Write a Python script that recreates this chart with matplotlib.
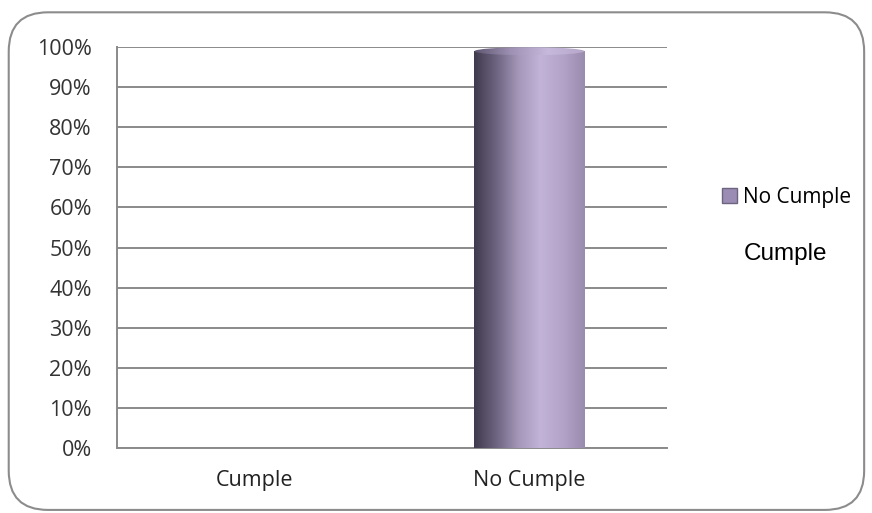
import matplotlib.pyplot as plt
import numpy as np
from matplotlib.patches import FancyBboxPatch, Ellipse, Rectangle, Patch
from matplotlib.colors import LinearSegmentedColormap
from matplotlib.lines import Line2D

categories = ['Cumple', 'No Cumple']
values = [0.0, 1.0]
legend_labels = ['No Cumple', 'Cumple']

fig = plt.figure(figsize=(8.72, 5.13), dpi=100)
fig.patch.set_facecolor('white')

# rounded frame around the chart
frame = FancyBboxPatch((0.010, 0.006), 0.981, 0.970, boxstyle='round,pad=0,rounding_size=0.045',
                       transform=fig.transFigure, fill=False, edgecolor='#8c8c8c', linewidth=1.5,
                       mutation_aspect=872 / 513)
fig.patches.append(frame)

ax = fig.add_axes([0.134, 0.127, 0.631, 0.781])
ax.set_xlim(-0.5, 1.5)
ax.set_ylim(0, 1)
ticks = np.arange(0, 1.01, 0.1)
ax.set_yticks(ticks)
ax.set_yticklabels([f'{int(round(v * 100))}%' for v in ticks],
                   fontsize=15.5, family='Open Sans', color='#333333')
ax.set_xticks(range(len(categories)))
ax.set_xticklabels(categories, fontsize=15.5, family='Open Sans', color='#222222')
ax.tick_params(length=0)
ax.tick_params(axis='y', pad=18)
ax.tick_params(axis='x', pad=16)
ax.yaxis.grid(True, color='#8a8a8a', linewidth=1.4)
ax.set_axisbelow(True)
for s in ['top', 'right']:
    ax.spines[s].set_visible(False)
for s in ['left', 'bottom']:
    ax.spines[s].set_color('#8a8a8a')
    ax.spines[s].set_linewidth(1.4)

cmap = LinearSegmentedColormap.from_list('cyl', ['#3f3a4c', '#6d6480', '#a497b8', '#c2b3d9', '#b3a3c9', '#9a8cad'])
cap_cmap = LinearSegmentedColormap.from_list('top', ['#5e5670', '#9e91b3', '#c7b9dc', '#b5a6ca'])
grad = np.linspace(0, 1, 256).reshape(1, -1)
width = 0.4
cap = 0.01
for i, v in enumerate(values):
    if v <= 0:
        continue
    x0, x1 = i - width / 2, i + width / 2
    body = Rectangle((x0, 0), width, v - cap, transform=ax.transData)
    im = ax.imshow(grad, cmap=cmap, aspect='auto', extent=(x0, x1, 0, v - cap), zorder=3)
    im.set_clip_path(body)
    top = Ellipse((i, v - cap), width, 2 * cap, transform=ax.transData)
    im2 = ax.imshow(grad, cmap=cap_cmap, aspect='auto', extent=(x0, x1, v - 2 * cap, v), zorder=4)
    im2.set_clip_path(top)

ax.set_xlim(-0.5, 1.5)
ax.set_ylim(0, 1)

handles = [Patch(facecolor='#9a8cb3', edgecolor='#6d6480'),
           Line2D([], [], linestyle='none')]
leg = fig.legend(handles, legend_labels, loc='center left', bbox_to_anchor=(0.806, 0.56),
                 frameon=False, handlelength=0.75, handleheight=0.75,
                 handletextpad=0.3, labelspacing=1.7, prop={'family': 'Open Sans', 'size': 15})
leg.get_texts()[1].set_family('Liberation Sans')
leg.get_texts()[1].set_fontsize(17.5)

fig.savefig('out.png', dpi=100)
